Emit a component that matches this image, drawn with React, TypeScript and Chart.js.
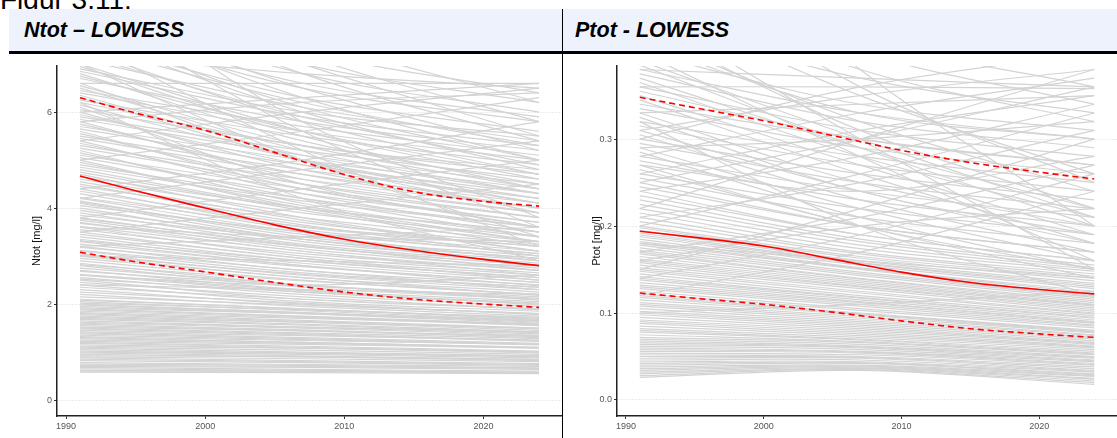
import React, { useEffect, useRef } from "react";
import { Chart, registerables } from "chart.js";

Chart.register(...registerables);

// Years at which each station curve is sampled
const lineYears = [1991, 2007, 2024];

// Ntot station curves (mg/l) at 1991, 2007, 2024 — group A
const ntotStartA = [
  0.58, 0.62, 0.68, 0.72, 0.78, 0.85, 0.9, 0.95, 1.0, 1.05,
  1.1, 1.15, 1.2, 1.25, 1.3, 1.35, 1.4, 1.45, 1.5, 1.55,
  1.6, 1.65, 1.7, 1.75, 1.8, 1.85, 1.9, 1.95, 2.0, 2.05,
  2.1, 2.2, 2.3, 2.4, 2.5, 2.55, 2.6, 2.7, 2.8, 2.85,
  2.9, 3.0, 3.05, 3.1, 3.2, 3.3, 3.35, 3.4, 3.5, 3.6,
  3.7, 3.75, 3.8, 3.9, 4.0, 4.1, 4.15, 4.2, 4.3, 4.4,
  4.5, 4.6, 4.7, 4.8, 4.9, 5.0, 5.1, 5.2, 5.3, 5.4,
  5.5, 5.6, 5.7, 5.8, 5.9, 6.0, 6.1, 6.2, 6.3, 6.4,
  6.5, 6.6, 6.7, 6.8, 6.9, 7.0, 7.2, 7.4, 7.6, 7.8,
  8.0, 8.3, 8.6, 9.0, 9.5, 5.0, 4.2, 6.0, 3.5, 7.5,
  2.6, 8.8, 3.2, 6.2, 7.2,
];
const ntotMidA = [
  0.57, 0.6, 0.64, 0.7, 0.74, 0.8, 0.86, 0.9, 0.95, 0.98,
  1.04, 1.08, 1.12, 1.18, 1.2, 1.26, 1.3, 1.36, 1.4, 1.44,
  1.5, 1.52, 1.58, 1.62, 1.66, 1.72, 1.75, 1.8, 1.82, 1.86,
  1.9, 1.95, 2.0, 2.05, 2.1, 2.2, 2.25, 2.3, 2.35, 2.4,
  2.5, 2.55, 2.6, 2.65, 2.7, 2.8, 2.85, 2.9, 2.95, 3.0,
  3.1, 3.15, 3.2, 3.25, 3.3, 3.35, 3.4, 3.5, 3.55, 3.6,
  3.7, 3.9, 3.8, 4.0, 4.2, 4.0, 4.4, 4.1, 4.6, 4.3,
  4.8, 4.4, 5.0, 4.6, 5.2, 4.8, 4.5, 5.3, 5.0, 5.6,
  5.2, 5.0, 5.8, 5.4, 6.0, 5.6, 5.9, 6.2, 6.0, 6.5,
  6.3, 6.8, 7.0, 7.3, 7.6, 5.6, 4.8, 6.3, 4.0, 5.2,
  2.4, 5.8, 3.4, 4.2, 6.8,
];
const ntotEndA = [
  0.55, 0.56, 0.6, 0.66, 0.7, 0.74, 0.8, 0.82, 0.88, 0.9,
  0.95, 0.98, 1.02, 1.08, 1.1, 1.15, 1.18, 1.22, 1.28, 1.3,
  1.35, 1.38, 1.42, 1.45, 1.5, 1.55, 1.58, 1.6, 1.62, 1.66,
  1.7, 1.75, 1.8, 1.85, 1.9, 1.95, 2.0, 2.05, 2.1, 2.15,
  2.2, 2.25, 2.3, 2.35, 2.4, 2.45, 2.5, 2.55, 2.6, 2.65,
  2.7, 2.75, 2.8, 2.85, 2.9, 2.95, 3.0, 3.05, 3.1, 3.2,
  3.25, 3.4, 3.1, 3.5, 3.6, 3.3, 3.8, 3.4, 4.0, 3.5,
  4.2, 3.7, 4.4, 3.9, 4.6, 4.0, 3.6, 4.8, 4.1, 5.0,
  4.3, 3.9, 5.2, 4.5, 5.5, 4.6, 4.9, 5.3, 4.8, 5.8,
  5.0, 6.0, 5.5, 6.4, 6.2, 6.3, 5.4, 6.6, 4.5, 3.2,
  2.6, 3.8, 3.6, 2.9, 6.5,
];

// Ntot station curves — group B
const ntotStartB = [
  0.6, 0.65, 0.7, 0.75, 0.82, 0.88, 0.92, 0.98, 1.02, 1.08,
  1.12, 1.18, 1.22, 1.28, 1.32, 1.38, 1.42, 1.48, 1.52, 1.58,
  1.62, 1.68, 1.72, 1.78, 1.82, 1.88, 1.92, 1.98, 2.02, 2.08,
  2.15, 2.25, 2.35, 2.45, 2.52, 2.62, 2.68, 2.75, 2.82, 2.95,
  3.02, 3.12, 3.18, 3.25, 3.32, 3.45, 3.55, 3.62, 3.68, 3.78,
  3.85, 3.95, 4.05, 4.12, 4.22, 4.35, 4.45, 4.55, 4.65, 4.75,
  4.85, 4.95, 2.4, 3.0, 3.6, 5.05, 5.15, 5.25, 5.35, 5.45,
  5.55, 5.65, 5.75, 5.85, 5.95, 6.05, 6.15, 6.25, 6.35, 6.45,
  6.55, 6.75, 6.85, 6.95, 7.1, 7.3, 7.5, 7.7, 7.9, 8.1,
  8.4, 8.7, 9.2, 4.4, 5.4, 3.8, 6.6, 7.0, 5.8, 8.2,
];
const ntotMidB = [
  0.6, 0.62, 0.68, 0.72, 0.78, 0.82, 0.9, 0.92, 0.97, 1.0,
  1.08, 1.1, 1.16, 1.2, 1.24, 1.28, 1.34, 1.38, 1.44, 1.46,
  1.52, 1.56, 1.62, 1.64, 1.7, 1.74, 1.8, 1.82, 1.88, 1.9,
  1.98, 2.02, 2.1, 2.15, 2.25, 2.28, 2.38, 2.4, 2.48, 2.55,
  2.62, 2.7, 2.78, 2.8, 2.9, 2.95, 3.05, 3.1, 3.2, 3.22,
  3.35, 3.35, 3.5, 3.45, 3.62, 3.65, 3.8, 3.75, 4.0, 3.95,
  4.15, 4.05, 2.3, 2.9, 3.4, 4.3, 4.2, 4.5, 4.4, 4.7,
  4.5, 4.9, 4.7, 5.1, 4.9, 5.3, 5.0, 5.5, 5.1, 5.7,
  5.3, 5.6, 5.9, 5.5, 6.1, 5.8, 6.3, 6.1, 6.6, 6.5,
  7.0, 6.8, 7.2, 5.0, 6.0, 4.4, 6.6, 5.0, 6.2, 5.6,
];
const ntotEndB = [
  0.58, 0.57, 0.64, 0.67, 0.72, 0.76, 0.85, 0.84, 0.92, 0.92,
  1.0, 1.0, 1.08, 1.1, 1.16, 1.16, 1.25, 1.24, 1.34, 1.32,
  1.42, 1.4, 1.5, 1.48, 1.58, 1.56, 1.66, 1.64, 1.72, 1.68,
  1.8, 1.78, 1.9, 1.88, 2.02, 1.98, 2.12, 2.08, 2.2, 2.18,
  2.35, 2.3, 2.45, 2.38, 2.55, 2.5, 2.7, 2.6, 2.8, 2.7,
  2.95, 2.8, 3.05, 2.9, 3.2, 3.0, 3.3, 3.1, 3.5, 3.2,
  3.6, 3.3, 2.2, 2.8, 3.3, 3.7, 3.4, 3.9, 3.6, 4.1,
  3.8, 4.3, 4.0, 4.5, 4.1, 4.7, 4.2, 4.9, 4.3, 5.1,
  4.4, 4.7, 5.3, 4.4, 5.4, 4.7, 5.6, 5.0, 5.9, 5.2,
  6.2, 5.4, 5.8, 5.8, 6.5, 5.0, 6.6, 3.4, 6.4, 3.6,
];

// Ptot station curves (mg/l) at 1991, 2007, 2024 — group A
const ptotStartA = [
  0.026, 0.03, 0.034, 0.038, 0.042, 0.046, 0.05, 0.054, 0.058, 0.062,
  0.066, 0.07, 0.075, 0.08, 0.085, 0.09, 0.095, 0.1, 0.105, 0.11,
  0.115, 0.12, 0.125, 0.13, 0.135, 0.14, 0.145, 0.15, 0.155, 0.16,
  0.165, 0.17, 0.175, 0.18, 0.185, 0.19, 0.195, 0.2, 0.21, 0.22,
  0.23, 0.24, 0.25, 0.26, 0.27, 0.28, 0.29, 0.3, 0.31, 0.32,
  0.33, 0.34, 0.35, 0.36, 0.37, 0.38, 0.39, 0.4, 0.42, 0.44,
  0.46, 0.5, 0.55, 0.2, 0.15, 0.28, 0.12, 0.3, 0.22, 0.33,
  0.25, 0.18, 0.36, 0.45, 0.1, 0.27, 0.6, 0.32,
];
const ptotMidA = [
  0.034, 0.036, 0.038, 0.04, 0.043, 0.046, 0.049, 0.052, 0.055, 0.058,
  0.061, 0.064, 0.067, 0.07, 0.074, 0.078, 0.082, 0.086, 0.09, 0.094,
  0.098, 0.1, 0.105, 0.11, 0.113, 0.117, 0.12, 0.125, 0.13, 0.133,
  0.137, 0.14, 0.145, 0.15, 0.152, 0.157, 0.16, 0.165, 0.17, 0.178,
  0.185, 0.19, 0.2, 0.22, 0.2, 0.24, 0.22, 0.26, 0.24, 0.28,
  0.25, 0.3, 0.27, 0.31, 0.29, 0.33, 0.3, 0.34, 0.32, 0.37,
  0.35, 0.4, 0.42, 0.26, 0.22, 0.33, 0.17, 0.36, 0.3, 0.34,
  0.3, 0.16, 0.36, 0.3, 0.11, 0.24, 0.38, 0.2,
];
const ptotEndA = [
  0.018, 0.022, 0.025, 0.028, 0.03, 0.033, 0.036, 0.04, 0.042, 0.045,
  0.048, 0.05, 0.053, 0.056, 0.06, 0.062, 0.065, 0.068, 0.072, 0.075,
  0.078, 0.08, 0.085, 0.088, 0.09, 0.094, 0.097, 0.1, 0.104, 0.108,
  0.11, 0.114, 0.118, 0.12, 0.125, 0.13, 0.134, 0.14, 0.145, 0.15,
  0.155, 0.16, 0.17, 0.19, 0.15, 0.21, 0.16, 0.23, 0.18, 0.25,
  0.2, 0.27, 0.19, 0.28, 0.22, 0.3, 0.21, 0.31, 0.24, 0.33,
  0.26, 0.34, 0.36, 0.33, 0.3, 0.37, 0.24, 0.4, 0.38, 0.35,
  0.36, 0.14, 0.358, 0.15, 0.125, 0.28, 0.2, 0.12,
];

// Ptot station curves — group B
const ptotStartB = [
  0.028, 0.032, 0.036, 0.04, 0.044, 0.048, 0.052, 0.056, 0.06, 0.064,
  0.068, 0.072, 0.078, 0.082, 0.088, 0.092, 0.098, 0.102, 0.108, 0.112,
  0.118, 0.122, 0.128, 0.132, 0.138, 0.142, 0.148, 0.152, 0.158, 0.162,
  0.168, 0.172, 0.178, 0.182, 0.188, 0.192, 0.198, 0.205, 0.215, 0.225,
  0.235, 0.245, 0.255, 0.265, 0.275, 0.285, 0.295, 0.305, 0.315, 0.325,
  0.335, 0.345, 0.355, 0.365, 0.375, 0.385, 0.41, 0.43, 0.48, 0.52,
  0.21, 0.17, 0.26, 0.14, 0.31, 0.24, 0.38, 0.16, 0.4, 0.29,
];
const ptotMidB = [
  0.035, 0.037, 0.039, 0.042, 0.044, 0.048, 0.05, 0.054, 0.056, 0.06,
  0.062, 0.066, 0.069, 0.072, 0.076, 0.08, 0.084, 0.088, 0.092, 0.096,
  0.099, 0.103, 0.108, 0.112, 0.115, 0.118, 0.123, 0.128, 0.131, 0.135,
  0.139, 0.143, 0.147, 0.151, 0.155, 0.158, 0.163, 0.168, 0.174, 0.182,
  0.19, 0.2, 0.21, 0.2, 0.23, 0.21, 0.25, 0.23, 0.27, 0.24,
  0.29, 0.26, 0.3, 0.28, 0.32, 0.29, 0.33, 0.31, 0.38, 0.36,
  0.25, 0.21, 0.31, 0.19, 0.35, 0.28, 0.37, 0.2, 0.28, 0.3,
];
const ptotEndB = [
  0.02, 0.024, 0.027, 0.029, 0.032, 0.034, 0.038, 0.041, 0.044, 0.046,
  0.049, 0.052, 0.054, 0.058, 0.061, 0.064, 0.066, 0.07, 0.074, 0.077,
  0.079, 0.083, 0.086, 0.089, 0.092, 0.095, 0.099, 0.102, 0.106, 0.109,
  0.112, 0.116, 0.119, 0.123, 0.128, 0.132, 0.137, 0.142, 0.148, 0.152,
  0.16, 0.17, 0.18, 0.14, 0.2, 0.15, 0.22, 0.17, 0.24, 0.19,
  0.26, 0.18, 0.27, 0.21, 0.29, 0.2, 0.3, 0.22, 0.32, 0.25,
  0.31, 0.27, 0.35, 0.26, 0.38, 0.34, 0.36, 0.22, 0.16, 0.32,
];

// LOWESS summary curves
const lowessYears = [1991, 1995, 2000, 2005, 2010, 2015, 2020, 2024];
const ntotCenter = [4.67, 4.36, 4.0, 3.65, 3.35, 3.12, 2.93, 2.8];
const ntotUpper = [6.3, 5.98, 5.62, 5.16, 4.7, 4.34, 4.14, 4.04];
const ntotLower = [3.08, 2.88, 2.67, 2.45, 2.25, 2.1, 2.0, 1.93];
const ptotCenter = [0.194, 0.187, 0.177, 0.162, 0.147, 0.135, 0.127, 0.122];
const ptotUpper = [0.348, 0.336, 0.321, 0.304, 0.287, 0.273, 0.262, 0.254];
const ptotLower = [0.123, 0.117, 0.11, 0.101, 0.091, 0.082, 0.076, 0.072];

const xTicks = [1990, 2000, 2010, 2020];
const ntotTicks = [0, 2, 4, 6];
const ptotTicks = [0, 0.1, 0.2, 0.3];

const FONT = "'Liberation Sans', Arial, Helvetica, sans-serif";

type PanelProps = {
  start: number[];
  mid: number[];
  end: number[];
  center: number[];
  upper: number[];
  lower: number[];
  yMin: number;
  yMax: number;
  yTicks: number[];
  decimals: number;
  yLabel: string;
  width: number;
  height: number;
  yAxisWidth: number;
  titlePad: number;
  padRight: number;
};

function Panel(p: PanelProps) {
  const ref = useRef<HTMLCanvasElement | null>(null);
  useEffect(() => {
    if (!ref.current) return;
    const gray: any[] = p.start.map((s, k) => ({
      data: lineYears.map((x, i) => ({ x, y: [s, p.mid[k], p.end[k]][i] })),
      borderColor: "#d3d3d3",
      borderWidth: 1.2,
      tension: 0.35,
      pointRadius: 0,
      fill: false,
      order: 1,
    }));
    const red = (vals: number[], dash: number[]) => ({
      data: lowessYears.map((x, i) => ({ x, y: vals[i] })),
      borderColor: "#ff0000",
      borderWidth: 1.6,
      borderDash: dash,
      cubicInterpolationMode: "monotone",
      pointRadius: 0,
      fill: false,
      order: 0,
    });
    const chart = new Chart(ref.current, {
      type: "line",
      data: {
        datasets: [
          red(p.center, []),
          red(p.upper, [6, 4]),
          red(p.lower, [6, 4]),
          ...gray,
        ],
      },
      options: {
        responsive: false,
        animation: false,
        devicePixelRatio: 1,
        layout: { padding: { top: 12, right: p.padRight, left: 0, bottom: 0 } },
        plugins: { legend: { display: false }, tooltip: { enabled: false } },
        scales: {
          x: {
            type: "linear",
            min: 1989.35,
            max: 2025.65,
            afterBuildTicks: (s: any) => {
              s.ticks = xTicks.map((v) => ({ value: v }));
            },
            afterFit: (s: any) => {
              s.height = 22;
            },
            grid: {
              drawOnChartArea: false,
              drawTicks: true,
              tickLength: 3,
              tickColor: "#333333",
              tickWidth: 1,
            },
            border: { display: true, color: "#222222", width: 1.5 },
            ticks: {
              color: "#555555",
              font: { family: FONT, size: 9 },
              padding: 2,
              maxRotation: 0,
              autoSkip: false,
              callback: (v: any) => String(v),
            },
          },
          y: {
            type: "linear",
            min: p.yMin,
            max: p.yMax,
            afterBuildTicks: (s: any) => {
              s.ticks = p.yTicks.map((v) => ({ value: v }));
            },
            afterFit: (s: any) => {
              s.width = p.yAxisWidth;
            },
            grid: {
              drawOnChartArea: true,
              color: "#d8d8d8",
              lineWidth: 1,
              drawTicks: true,
              tickLength: 3,
              tickColor: "#333333",
              tickWidth: 1,
            },
            border: { display: true, color: "#222222", width: 1.5, dash: [1, 2] },
            ticks: {
              color: "#555555",
              font: { family: FONT, size: 9 },
              padding: 2,
              autoSkip: false,
              callback: (v: any) => Number(v).toFixed(p.decimals),
            },
            title: {
              display: true,
              text: p.yLabel,
              color: "#111111",
              font: { family: FONT, size: 11 },
              padding: { top: p.titlePad, bottom: 0 },
            },
          },
        },
      } as any,
    });
    return () => chart.destroy();
  }, []);
  return <canvas ref={ref} width={p.width} height={p.height} style={{ display: "block" }} />;
}

const headerText: React.CSSProperties = {
  position: "absolute",
  top: 9,
  height: 42,
  lineHeight: "42px",
  fontSize: 21.5,
  fontWeight: "bold",
  fontStyle: "italic",
  color: "#000",
  whiteSpace: "nowrap",
};

export default function App() {
  return (
    <div
      style={{
        position: "absolute",
        left: 0,
        top: 0,
        width: 1117,
        height: 438,
        overflow: "hidden",
        background: "#ffffff",
        fontFamily: FONT,
      }}
    >
      <div
        style={{
          position: "absolute",
          left: 0,
          top: -14,
          fontSize: 28,
          lineHeight: "28px",
          color: "#000",
          whiteSpace: "nowrap",
        }}
      >
        Figur 3.11:
      </div>
      <div style={{ position: "absolute", left: 9, top: 9, width: 1108, height: 42, background: "#eef2fc" }} />
      <div style={{ ...headerText, left: 24 }}>Ntot – LOWESS</div>
      <div style={{ ...headerText, left: 575 }}>Ptot - LOWESS</div>
      <div style={{ position: "absolute", left: 9, top: 51, width: 1108, height: 3, background: "#000" }} />
      <div style={{ position: "absolute", left: 0, top: 54 }}>
        <Panel
          start={[...ntotStartA, ...ntotStartB]}
          mid={[...ntotMidA, ...ntotMidB]}
          end={[...ntotEndA, ...ntotEndB]}
          center={ntotCenter}
          upper={ntotUpper}
          lower={ntotLower}
          yMin={-0.333}
          yMax={6.96}
          yTicks={ntotTicks}
          decimals={0}
          yLabel="Ntot [mg/l]"
          width={563}
          height={384}
          yAxisWidth={57}
          titlePad={30}
          padRight={1}
        />
      </div>
      <div style={{ position: "absolute", left: 563, top: 54 }}>
        <Panel
          start={[...ptotStartA, ...ptotStartB]}
          mid={[...ptotMidA, ...ptotMidB]}
          end={[...ptotEndA, ...ptotEndB]}
          center={ptotCenter}
          upper={ptotUpper}
          lower={ptotLower}
          yMin={-0.0184}
          yMax={0.384}
          yTicks={ptotTicks}
          decimals={1}
          yLabel="Ptot [mg/l]"
          width={554}
          height={384}
          yAxisWidth={54}
          titlePad={27}
          padRight={0}
        />
      </div>
      <div style={{ position: "absolute", left: 562, top: 9, width: 1, height: 429, background: "#000" }} />
    </div>
  );
}
